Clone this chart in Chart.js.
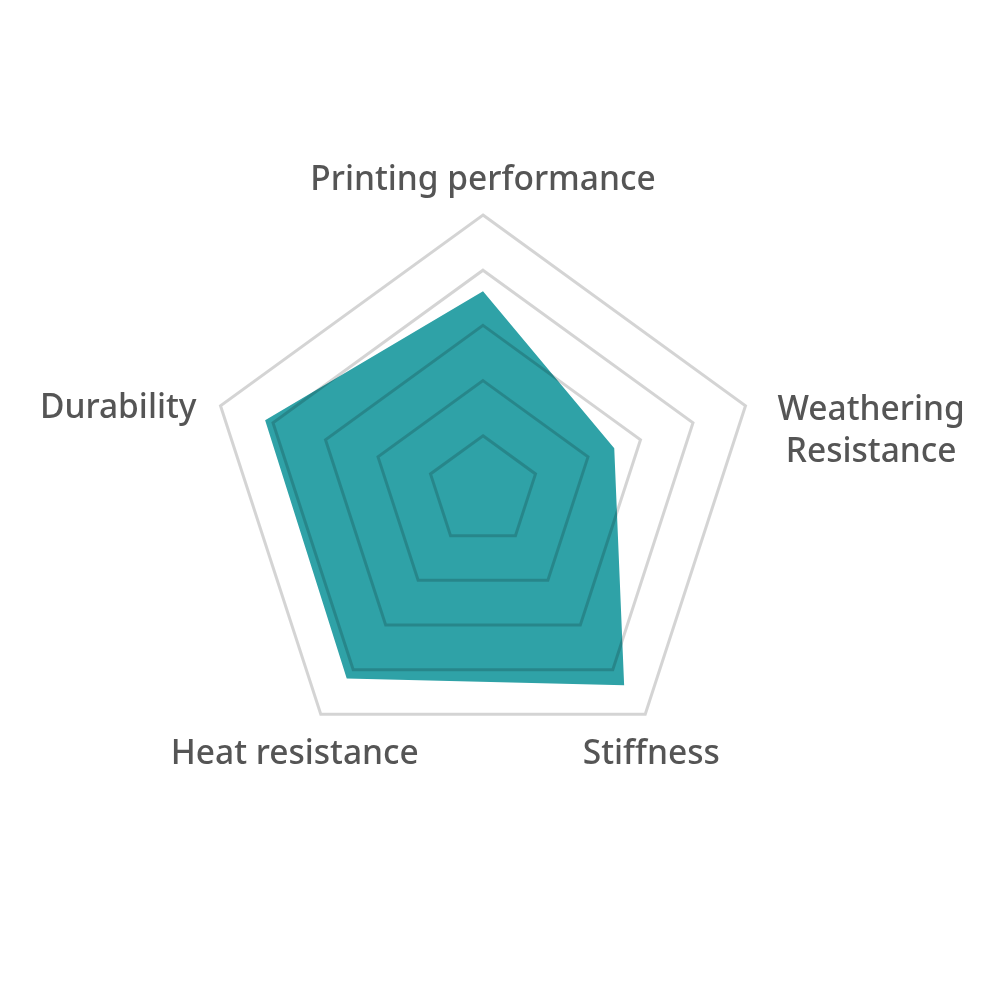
<!DOCTYPE html>
<html>
<head>
<meta charset="utf-8">
<script src="https://cdn.jsdelivr.net/npm/chart.js@4"></script>
<style>
html,body{margin:0;padding:0;background:#fff;}
#wrap{width:1000px;height:1000px;position:relative;}
</style>
</head>
<body>
<div id="wrap"><canvas id="c" width="1000" height="1000"></canvas></div>
<script>
const categories = ['Printing performance', ['Weathering', 'Resistance'], 'Stiffness', 'Heat resistance', 'Durability'];
const scores = [3.62, 2.5, 4.35, 4.2, 4.15];
const scaleMax = 5;
const scaleStep = 1;

const labelPlugin = {
  id: 'axisLabels',
  afterDraw(chart) {
    const s = chart.scales.r;
    const ctx = chart.ctx;
    ctx.save();
    ctx.font = '500 33.5px "Noto Sans"';
    ctx.fillStyle = '#555555';
    ctx.textBaseline = 'alphabetic';
    ctx.textAlign = 'center';
    const lh = 42;
    chart.data.labels.forEach((lab, i) => {
      const lines = Array.isArray(lab) ? lab : [lab];
      const p = s.getPointPosition(i, s.drawingArea);
      const dx = p.x - s.xCenter, dy = p.y - s.yCenter;
      const w = Math.max(...lines.map(l => ctx.measureText(l).width));
      let cx, base;
      if (Math.abs(dx) < 1) { cx = p.x; base = p.y - 25 - (lines.length - 1) * lh; }
      else if (dy > 0) { cx = p.x + (dx > 0 ? 6 : -26); base = p.y + 50; }
      else if (dx > 0) { cx = p.x + 32 + w / 2; base = p.y + 14; }
      else { cx = p.x - 24 - w / 2; base = p.y + 12; }
      lines.forEach((l, k) => ctx.fillText(l, cx, base + k * lh));
    });
    ctx.restore();
  }
};

new Chart(document.getElementById('c'), {
  type: 'radar',
  data: {
    labels: categories,
    datasets: [{
      data: scores,
      backgroundColor: 'rgb(47,162,167)',
      borderWidth: 0,
      pointRadius: 0,
      fill: true
    }]
  },
  plugins: [labelPlugin],
  options: {
    responsive: false,
    animation: false,
    layout: { padding: { top: 215, bottom: 233, left: 207, right: 241 } },
    plugins: { legend: { display: false }, tooltip: { enabled: false } },
    scales: {
      r: {
        min: 0,
        max: scaleMax,
        ticks: { display: false, stepSize: scaleStep },
        angleLines: { display: false },
        grid: { color: 'rgba(0,0,0,0.17)', lineWidth: 3, z: 1 },
        pointLabels: { display: false }
      }
    }
  }
});
</script>
</body>
</html>
